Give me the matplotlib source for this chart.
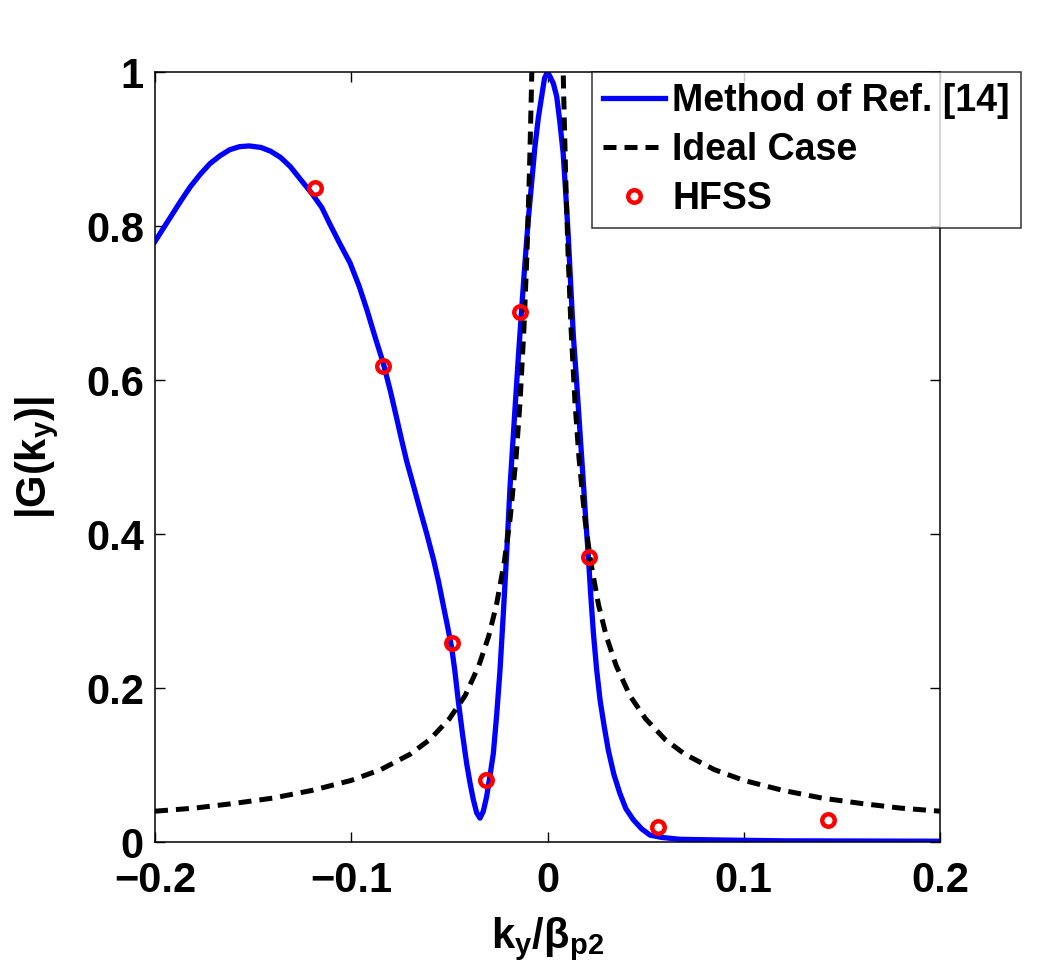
import matplotlib
matplotlib.use("Agg")
import matplotlib.pyplot as plt
import numpy as np

plt.rcParams["font.family"] = ["Liberation Sans", "DejaVu Sans"]
plt.rcParams["font.weight"] = "bold"
plt.rcParams["mathtext.fontset"] = "custom"
plt.rcParams["mathtext.rm"] = "Liberation Sans"
plt.rcParams["mathtext.bf"] = "Liberation Sans:bold"
plt.rcParams["mathtext.it"] = "Liberation Sans:bold"
plt.rcParams["mathtext.default"] = "bf"

# Method of Ref. [14] (blue solid)
method_x = [-0.2, -0.197, -0.192, -0.187, -0.182, -0.177, -0.172, -0.167, -0.162,
            -0.157, -0.152, -0.146, -0.141, -0.136, -0.131, -0.126, -0.120,
            -0.115, -0.111, -0.106, -0.1006, -0.096, -0.092, -0.088, -0.0837,
            -0.080, -0.077, -0.0745, -0.0718, -0.068, -0.065, -0.0615, -0.058,
            -0.0555, -0.053, -0.051, -0.0488, -0.0472, -0.0455, -0.0433, -0.0412,
            -0.0395, -0.0378, -0.0361, -0.0344, -0.0327, -0.031, -0.0293, -0.0276,
            -0.0259, -0.0242, -0.0225, -0.0208, -0.0191, -0.0166, -0.0149, -0.0132,
            -0.0115, -0.0098, -0.008, -0.0064, -0.0047, -0.003, -0.0015, 0.0,
            0.0015, 0.003, 0.0047, 0.0063, 0.008, 0.0093, 0.0106, 0.0119, 0.0132,
            0.0145, 0.0157, 0.017, 0.0183, 0.0195, 0.0208, 0.022, 0.0234, 0.025,
            0.0268, 0.0289, 0.031, 0.0338, 0.0369, 0.040, 0.0437, 0.048, 0.0522,
            0.058, 0.0675, 0.088, 0.12, 0.2]
method_y = [0.780, 0.792, 0.812, 0.832, 0.851, 0.867, 0.881, 0.891, 0.899,
            0.903, 0.904, 0.902, 0.897, 0.889, 0.877, 0.861, 0.842,
            0.824, 0.803, 0.778, 0.752, 0.722, 0.691, 0.657, 0.622,
            0.585, 0.552, 0.524, 0.495, 0.460, 0.432, 0.400, 0.366,
            0.338, 0.306, 0.281, 0.252, 0.222, 0.184, 0.140, 0.102,
            0.077, 0.055, 0.038, 0.031, 0.040, 0.059, 0.086, 0.115,
            0.165, 0.223, 0.297, 0.375, 0.461, 0.561, 0.628, 0.691,
            0.752, 0.808, 0.858, 0.903, 0.940, 0.968, 0.992, 1.0,
            0.993, 0.985, 0.968, 0.935, 0.894, 0.842, 0.786, 0.720, 0.656,
            0.610, 0.565, 0.515, 0.466, 0.418, 0.371, 0.322, 0.271, 0.225,
            0.184, 0.150, 0.119, 0.088, 0.063, 0.043, 0.029, 0.017, 0.009,
            0.006, 0.0035, 0.0026, 0.0015, 0.001]

# Ideal Case (black dashed), goes off the top near k_y = 0
ideal_x = [-0.2, -0.18, -0.16, -0.14, -0.12, -0.1, -0.085, -0.07, -0.06, -0.05,
           -0.042, -0.035, -0.03, -0.026, -0.022, -0.019, -0.016, -0.014, -0.012,
           -0.0105, -0.0092, -0.0082, -0.0076, np.nan,
           0.0076, 0.0082, 0.0092, 0.0105, 0.012, 0.014, 0.016, 0.019, 0.022,
           0.026, 0.03, 0.035, 0.042, 0.05, 0.06, 0.07, 0.085, 0.1, 0.12, 0.14,
           0.16, 0.18, 0.2]
ideal_y = [0.040, 0.044, 0.050, 0.057, 0.067, 0.080, 0.094, 0.114, 0.133, 0.160,
           0.190, 0.229, 0.267, 0.308, 0.364, 0.421, 0.500, 0.571, 0.667,
           0.762, 0.870, 0.976, 1.05, np.nan,
           1.05, 0.976, 0.870, 0.762, 0.667, 0.571, 0.500, 0.421, 0.364,
           0.308, 0.267, 0.229, 0.190, 0.160, 0.133, 0.114, 0.094, 0.080, 0.067,
           0.057, 0.050, 0.044, 0.040]

# HFSS (red circles)
hfss_x = [-0.1185, -0.0838, -0.0488, -0.0314, -0.014, 0.0211, 0.0561, 0.143]
hfss_y = [0.850, 0.618, 0.259, 0.080, 0.688, 0.370, 0.020, 0.029]

x_ticks = [-0.2, -0.1, 0, 0.1, 0.2]
x_tick_labels = ["\u22120.2", "\u22120.1", "0", "0.1", "0.2"]
y_ticks = [0, 0.2, 0.4, 0.6, 0.8, 1]
y_tick_labels = ["0", "0.2", "0.4", "0.6", "0.8", "1"]

fig = plt.figure(figsize=(10.4, 9.69), dpi=100)
ax = fig.add_axes([155 / 1040, 1 - 842 / 969, 785 / 1040, 770 / 969])

ax.plot(method_x, method_y, color="blue", linewidth=3.8, label="Method of Ref. [14]")
ax.plot(ideal_x, ideal_y, color="black", linewidth=3.6, dashes=(2.6, 1.6),
        label="Ideal Case")
ax.plot(hfss_x, hfss_y, linestyle="none", marker="o", markersize=9,
        markerfacecolor="none", markeredgecolor="red", markeredgewidth=3.2,
        label="HFSS")

ax.set_xlim(-0.2, 0.2)
ax.set_ylim(0, 1)
ax.set_xticks(x_ticks)
ax.set_xticklabels(x_tick_labels)
ax.set_yticks(y_ticks)
ax.set_yticklabels(y_tick_labels)
ax.tick_params(direction="in", length=7, width=1, top=True, right=True,
               labelsize=30)
ax.tick_params(axis="x", pad=14)
ax.tick_params(axis="y", pad=8)
for spine in ax.spines.values():
    spine.set_linewidth(1.1)

ax.set_xlabel(r"$k_y/\mathrm{\beta}_{p2}$", fontsize=30)
ax.set_ylabel(r"$|G(k_y)|$", fontsize=30)
ax.xaxis.set_label_coords(0.5, -0.095)
ax.yaxis.set_label_coords(-0.12, 0.5)

leg = ax.legend(loc="upper left", bbox_to_anchor=(591.7 / 1040, 1 - 71.7 / 969),
                bbox_transform=fig.transFigure, fontsize=27, frameon=True,
                fancybox=False, handlelength=1.65, handletextpad=0.2,
                labelspacing=0.35, borderpad=0.3, borderaxespad=0)
leg.get_frame().set_edgecolor("black")
leg.get_frame().set_linewidth(1.1)

fig.savefig("out.png", dpi=100)
